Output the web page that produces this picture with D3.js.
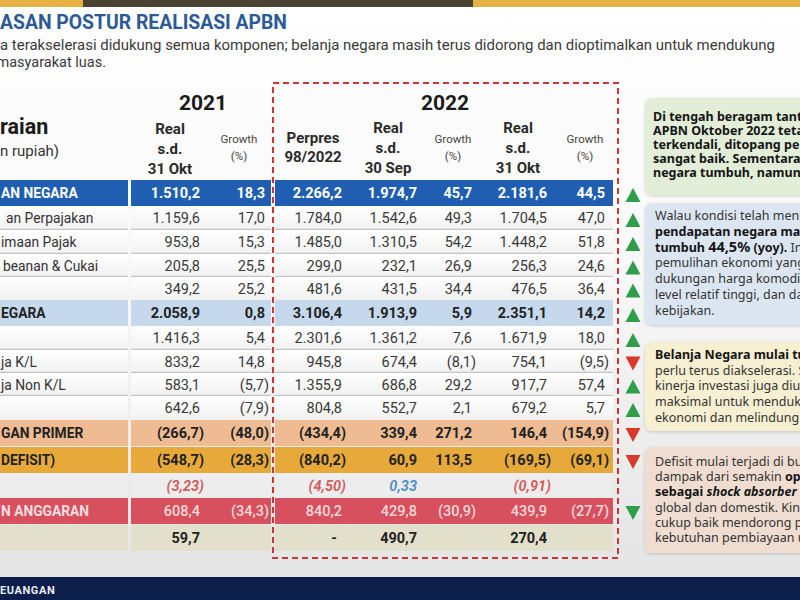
<!DOCTYPE html>
<html><head><meta charset="utf-8">
<script src="https://cdn.jsdelivr.net/npm/d3@7"></script>
<style>body{margin:0;background:#fff}svg{display:block}</style>
</head><body><svg id="c" width="800" height="600"></svg>
<script>
// ---------- DATA ----------
const titleText = "ASAN POSTUR REALISASI APBN";
const subtitleLines = ["a terakselerasi didukung semua komponen; belanja negara masih terus didorong dan dioptimalkan untuk mendukung", "masyarakat luas."];
const yearLabels = ["2021", "2022"];
const rowLabels = ["AN NEGARA","an Perpajakan","imaan Pajak","beanan & Cukai","","EGARA","","ja K/L","ja Non K/L","","GAN PRIMER","DEFISIT)","","N ANGGARAN",""];
const rowTypes = ["pendapatan","item","item","item","item","belanja","item","item","item","item","primer","defisit","pdb","pembiayaan","silpa"];
const columnKeys = ["real2021","growth2021","perpres2022","realSep2022","growthSep2022","realOkt2022","growthOkt2022"];
const columnHeaders = [["Real","s.d.","31 Okt"],["Growth","(%)"],["Perpres","98/2022"],["Real","s.d.","30 Sep"],["Growth","(%)"],["Real","s.d.","31 Okt"],["Growth","(%)"]];
const real2021 = [1510.2,1159.6,953.8,205.8,349.2,2058.9,1416.3,833.2,583.1,642.6,-266.7,-548.7,-3.23,608.4,59.7];
const growth2021 = [18.3,17.0,15.3,25.5,25.2,0.8,5.4,14.8,-5.7,-7.9,-48.0,-28.3,null,-34.3,null];
const perpres2022 = [2266.2,1784.0,1485.0,299.0,481.6,3106.4,2301.6,945.8,1355.9,804.8,-434.4,-840.2,-4.50,840.2,null];
const realSep2022 = [1974.7,1542.6,1310.5,232.1,431.5,1913.9,1361.2,674.4,686.8,552.7,339.4,60.9,0.33,429.8,490.7];
const growthSep2022 = [45.7,49.3,54.2,26.9,34.4,5.9,7.6,-8.1,29.2,2.1,271.2,113.5,null,-30.9,null];
const realOkt2022 = [2181.6,1704.5,1448.2,256.3,476.5,2351.1,1671.9,754.1,917.7,679.2,146.4,-169.5,-0.91,439.9,270.4];
const growthOkt2022 = [44.5,47.0,51.8,24.6,36.4,14.2,18.0,-9.5,57.4,5.7,-154.9,-69.1,null,-27.7,null];
const trend = ["up-good","up-good","up-good","up-good","up-good","up-good","up-good","down-bad","up-good","up-good","down-bad","down-bad",null,"down-good",null];
const notes = [
  [[["Di tengah beragam tant","b"]],[["APBN Oktober 2022 teta","b"]],[["terkendali, ditopang per","b"]],[["sangat baik. Sementara f","b"]],[["negara tumbuh, namun p","b"]]],
  [[["Walau kondisi telah menu",""]],[["pendapatan negara masih","b"]],[["tumbuh ","b"],["44,5%","bl"],[" (yoy).","b"],[" In",""]],[["pemulihan ekonomi yang t",""]],[["dukungan harga komoditas",""]],[["level relatif tinggi, dan da",""]],[["kebijakan.",""]]],
  [[["Belanja Negara mulai tum","b"]],[["perlu terus diakselerasi. Se",""]],[["kinerja investasi juga diup",""]],[["maksimal untuk mendukun",""]],[["ekonomi dan melindungi m",""]]],
  [[["Defisit mulai terjadi di bul",""]],[["dampak dari semakin ",""],["opti","b"]],[["sebagai ","b"],["shock absorber","bi"],[" te",""]],[["global dan domestik. Kiner",""]],[["cukup baik mendorong per",""]],[["kebutuhan pembiayaan uta",""]]]
];
const footerText = "EUANGAN";

// ---------- LAYOUT ----------
const columns = {real2021, growth2021, perpres2022, realSep2022, growthSep2022, realOkt2022, growthOkt2022};
const svg = d3.select("#c");
const W = 800, H = 600;
const font = "Roboto, 'Noto Sans', sans-serif";
const noteFont = "'Noto Sans', 'Open Sans', sans-serif";

const defs = svg.append("defs");
const bg = defs.append("linearGradient").attr("id","bg").attr("x1",0).attr("y1",0).attr("x2",0).attr("y2",1);
bg.append("stop").attr("offset",0).attr("stop-color","#ffffff");
bg.append("stop").attr("offset",0.45).attr("stop-color","#f8f8f8");
bg.append("stop").attr("offset",1).attr("stop-color","#e3e3e3");
const rg = defs.append("linearGradient").attr("id","rowg").attr("x1",0).attr("y1",0).attr("x2",0).attr("y2",1);
rg.append("stop").attr("offset",0).attr("stop-color","#ffffff");
rg.append("stop").attr("offset",1).attr("stop-color","#f1f1f1");
const sh = defs.append("filter").attr("id","sh").attr("x","-10%").attr("y","-10%").attr("width","130%").attr("height","130%");
sh.append("feDropShadow").attr("dx",0).attr("dy",1).attr("stdDeviation",1.5).attr("flood-color","#000").attr("flood-opacity",0.18);

svg.append("rect").attr("width",W).attr("height",H).attr("fill","url(#bg)");

// top bar
svg.append("rect").attr("x",0).attr("y",0).attr("width",W).attr("height",7).attr("fill","#e6b244");
svg.append("rect").attr("x",83).attr("y",0).attr("width",390).attr("height",7).attr("fill","#4a4232");

// title + subtitle
svg.append("text").attr("x",0).attr("y",29).attr("font-family",font).attr("font-weight",700)
  .attr("font-size",21).attr("fill","#2b5a96").attr("textLength",287).attr("lengthAdjust","spacingAndGlyphs").text(titleText);
svg.append("text").attr("x",0).attr("y",50).attr("font-family",font).attr("font-size",14.5).attr("fill","#3a3a3a")
  .attr("textLength",775).attr("lengthAdjust","spacingAndGlyphs").text(subtitleLines[0]);
svg.append("text").attr("x",-3.5).attr("y",67).attr("font-family",font).attr("font-size",14.5).attr("fill","#3a3a3a")
  .text(subtitleLines[1]);

// row scale (cumulative heights)
const rowHeights = [26,24,24,23,23,26,24,23,23,24,26,26,25,26,26];
const rowGapAfter = [0,0,0,0,0,0,0,0,0,0,1,0,0,1,0];
const rowTop = [];
{ let y = 180; rowHeights.forEach((h,i)=>{ rowTop.push(y); y += h + rowGapAfter[i]; }); }
const rowIdx = d3.range(rowLabels.length);
const yTop = d3.scaleOrdinal().domain(rowIdx).range(rowTop);
const yH = d3.scaleOrdinal().domain(rowIdx).range(rowHeights);
const yMid = i => yTop(i) + yH(i)/2;

// column scale (right edges)
const xCol = d3.scaleOrdinal().domain(columnKeys).range([200,265,342,417,472,547,605]);
const xHead = d3.scaleOrdinal().domain(columnKeys).range([170,239,313,388,453,518,585]);
const segments = [[0,128],[131,271],[275,613]];

const rowStyle = {
  pendapatan:{fill:"#1f5eb0", color:"#ffffff", weight:700},
  item:{fill:"url(#rowg)", color:"#3a3a3a", weight:400},
  belanja:{fill:"#c6d9ec", color:"#222", weight:700},
  primer:{fill:"#efbb93", color:"#222", weight:700},
  defisit:{fill:"#e7aa3a", color:"#222", weight:700},
  pdb:{fill:"#ededed", color:"#d24a4a", weight:700},
  pembiayaan:{fill:"#d6515d", color:"#f6d8db", weight:500},
  silpa:{fill:"#e2dfcb", color:"#222", weight:700}
};

// Indonesian locale formatting
const loc = d3.formatLocale({decimal:",", thousands:".", grouping:[3], currency:["Rp",""]});
const f1 = loc.format("(,.1f"), f2 = loc.format("(,.2f");

const rows = svg.append("g");
rowIdx.forEach(i=>{
  const st = rowStyle[rowTypes[i]];
  segments.forEach(([a,b])=>{
    rows.append("rect").attr("x",a).attr("y",yTop(i)).attr("width",b-a).attr("height",yH(i)).attr("fill",st.fill);
    if (rowTypes[i]==="item" && rowTypes[i+1]==="item") {
      rows.append("line").attr("x1",a).attr("x2",b).attr("y1",yTop(i)+yH(i)-0.5).attr("y2",yTop(i)+yH(i)-0.5)
        .attr("stroke","#c4c4c4").attr("stroke-width",1.5);
    }
  });
  // label
  if (rowLabels[i]) {
    rows.append("text").attr("x", i===1?6:(i===3?3:1)).attr("y",yMid(i)+5).attr("font-family",font)
      .attr("font-size",13.8).attr("font-weight", rowTypes[i]==="item"?400:700)
      .attr("fill", rowTypes[i]==="pembiayaan" ? "#f6dde0" : (rowTypes[i]==="pendapatan"?"#fff":(rowTypes[i]==="item"?"#333":"#222")))
      .text(rowLabels[i]);
  }
  // values
  columnKeys.forEach(k=>{
    const v = columns[k][i];
    const isGrowth = k.startsWith("growth");
    let txt, color = st.color;
    if (v === null) { if (isGrowth) return; txt = "-"; }
    else txt = rowTypes[i]==="pdb" ? f2(v) : f1(v);
    if (rowTypes[i]==="pdb" && v>0) color = "#3c86c6";
    const x = xCol(k) + (v!==null && v<0 ? 4 : 0) - (v===null ? 5 : 0);
    rows.append("text").attr("x",x).attr("y",yMid(i)+5).attr("text-anchor","end")
      .attr("font-family",font).attr("font-size",14.5).attr("font-weight",st.weight)
      .attr("font-style", rowTypes[i]==="pdb"?"italic":"normal")
      .attr("fill",color).attr("fill-opacity", rowTypes[i]==="pdb"?0.9:1).text(txt);
  });
});

// headers
svg.append("text").attr("x",203).attr("y",110).attr("text-anchor","middle").attr("font-family",font)
  .attr("font-weight",700).attr("font-size",21).attr("fill","#1a1a1a").text(yearLabels[0]);
svg.append("text").attr("x",445).attr("y",110).attr("text-anchor","middle").attr("font-family",font)
  .attr("font-weight",700).attr("font-size",21).attr("fill","#1a1a1a").text(yearLabels[1]);
svg.append("text").attr("x",0).attr("y",134).attr("font-family",font).attr("font-weight",700)
  .attr("font-size",21.5).attr("fill","#1a1a1a").text("raian");
svg.append("text").attr("x",0).attr("y",156).attr("font-family",font)
  .attr("font-size",15).attr("fill","#333").text("n rupiah)");
columnKeys.forEach((k,ci)=>{
  const lines = columnHeaders[ci];
  const g = k.startsWith("growth");
  const isPer = k==="perpres2022";
  const base = g ? [143,160] : (isPer ? [143,162] : (k==="real2021"?[134,154,174]:[133,153,173]));
  lines.forEach((l,li)=>{
    svg.append("text").attr("x",xHead(k)).attr("y",base[li]).attr("text-anchor","middle")
      .attr("font-family",font).attr("font-size", g?11.5:15).attr("font-weight", g?400:700)
      .attr("fill", g?"#444":"#2a2a2a").text(l);
  });
});

// dashed box
svg.append("rect").attr("x",273).attr("y",83).attr("width",345).attr("height",475).attr("fill","none")
  .attr("stroke","#d03434").attr("stroke-width",2).attr("stroke-dasharray","6,4");

// trend triangles
const triColor = {"up-good":"#2f9e4b","down-bad":"#d9392b","down-good":"#2f9e4b"};
rowIdx.forEach(i=>{
  const t = trend[i]; if (!t) return;
  const cx = 633, cy = yMid(i)+2, w = 7.5, h = 7;
  const p = t.startsWith("up") ? [[cx,cy-h],[cx+w,cy+h],[cx-w,cy+h]] : [[cx-w,cy-h],[cx+w,cy-h],[cx,cy+h]];
  svg.append("path").attr("d","M"+p.join("L")+"Z").attr("fill",triColor[t]);
});

// note boxes
const noteBoxes = [
  {y:98,h:97,fill:"#e3eed8",x0:653,base:121,step:14.1},
  {y:203,h:122,fill:"#dce6f2",x0:655,base:220,step:15.8},
  {y:342,h:89,fill:"#f7efd1",x0:655,base:359,step:15.7},
  {y:447,h:106,fill:"#f0ddd1",x0:655,base:466,step:15.2}
];
noteBoxes.forEach((b,bi)=>{
  svg.append("rect").attr("x",645).attr("y",b.y).attr("width",170).attr("height",b.h).attr("rx",7)
    .attr("fill",b.fill).attr("filter","url(#sh)");
  notes[bi].forEach((line,li)=>{
    const t = svg.append("text").attr("x",b.x0).attr("y",b.base+li*b.step).attr("font-family",noteFont)
      .attr("font-size",12.5).attr("fill", bi===0?"#151515":"#333").style("white-space","pre");
    line.forEach(([s,st])=>{
      t.append("tspan").attr("font-weight", st.includes("b")?700:400)
        .attr("font-style", st.includes("i")?"italic":"normal")
        .attr("font-size", st.includes("l")?14.5:12.5)
        .attr("fill", st.includes("b")?"#151515":null)
        .text(s);
    });
  });
});

// footer
svg.append("rect").attr("x",0).attr("y",577).attr("width",W).attr("height",23).attr("fill","#0c1f4b");
svg.append("text").attr("x",0).attr("y",594).attr("font-family",font).attr("font-weight",700)
  .attr("font-size",11).attr("letter-spacing",0.6).attr("fill","#e8ecf4").text(footerText);
</script></body></html>
